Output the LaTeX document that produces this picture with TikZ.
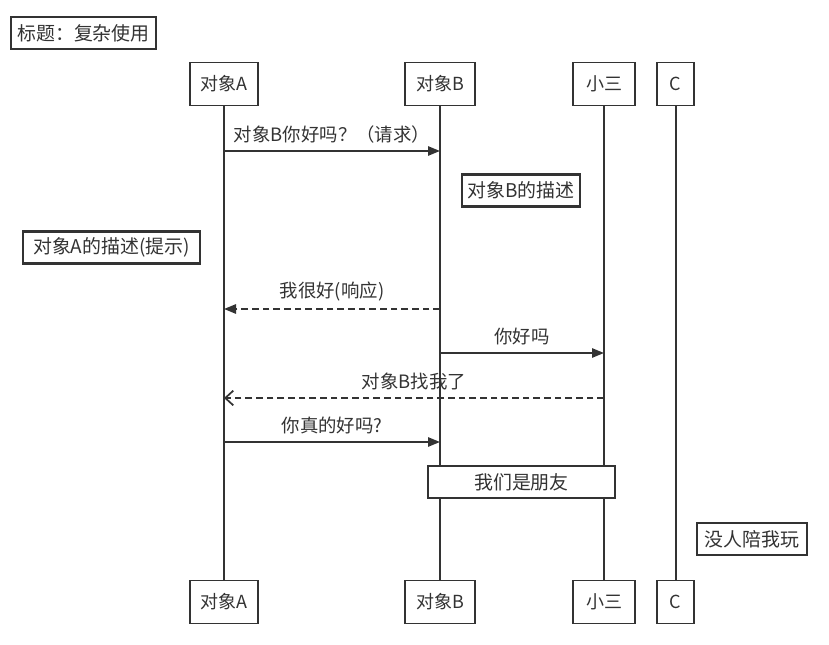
\documentclass[tikz,border=0pt]{standalone}
\usepackage{fontspec}
\setmainfont{Noto Sans CJK SC}
\usetikzlibrary{arrows.meta}
\definecolor{ink}{HTML}{333333}
\tikzset{
  px/.style={x=0.75pt,y=-0.75pt},
  actor/.style={draw=ink,line width=1.3pt,fill=white,minimum height=32.25pt,inner sep=0pt,font=\fontsize{13.5pt}{15pt}\selectfont,text=ink},
  notebox/.style={draw=ink,line width=1.6pt,fill=white,inner sep=0pt,minimum height=24pt,font=\fontsize{14.2pt}{16pt}\selectfont,text=ink},
  lifeline/.style={draw=ink,line width=1.5pt},
  msg/.style={draw=ink,line width=1.3pt,-{Triangle[length=9pt,width=7pt]}},
  reply/.style={msg,dash pattern=on 5pt off 3pt},
  async/.style={draw=ink,line width=1.3pt,dash pattern=on 5pt off 3pt,-{Straight Barb[length=6pt,width=11pt]}},
  lbl/.style={font=\fontsize{13.8pt}{15pt}\selectfont,text=ink,inner sep=0pt}
}
\begin{document}
\begin{tikzpicture}[px]
\useasboundingbox (0,0) rectangle (829,645);
% title
\node[notebox,minimum width=108.75pt,minimum height=23.5pt] (title) at (83.5,33) {标题：复杂使用};
% actors top
\node[actor,minimum width=51pt] (At) at (224,84) {对象A};
\node[actor,minimum width=52.5pt] (Bt) at (440,84) {对象B};
\node[actor,minimum width=46.5pt] (St) at (604,84) {小三};
\node[actor,minimum width=27.75pt] (Ct) at (675.5,84) {C};
% actors bottom
\node[actor,minimum width=51pt] (Ab) at (224,602) {对象A};
\node[actor,minimum width=52.5pt] (Bb) at (440,602) {对象B};
\node[actor,minimum width=46.5pt] (Sb) at (604,602) {小三};
\node[actor,minimum width=27.75pt] (Cb) at (675.5,602) {C};
% lifelines
\draw[lifeline] (At.south) -- (Ab.north);
\draw[lifeline] (Bt.south) -- (Bb.north);
\draw[lifeline] (St.south) -- (Sb.north);
\draw[lifeline] (Ct.south) -- (Cb.north);
% message endpoints
\coordinate (a1) at (224,151); \coordinate (b1) at (440,151);
\coordinate (b2) at (440,309); \coordinate (a2) at (224,309);
\coordinate (b3) at (440,353); \coordinate (s3) at (604,353);
\coordinate (s4) at (604,398); \coordinate (a4) at (224,398);
\coordinate (a5) at (224,442); \coordinate (b5) at (440,442);
% messages
\draw[msg] (a1) -- node[lbl,above=5pt] (m1) {对象B你好吗？（请求）} (b1);
\draw[reply] (b2) -- node[lbl,above=5pt] (m2) {我很好(响应)} (a2);
\draw[msg] (b3) -- node[lbl,above=5pt] (m3) {你好吗} (s3);
\draw[async] (s4) -- node[lbl,above=5pt] (m4) {对象B找我了} (a4);
\draw[msg] (a5) -- node[lbl,above=5pt] (m5) {你真的好吗?} (b5);
% notes
\node[notebox,minimum width=88.5pt] (n1) at (521,190.5) {对象B的描述};
\node[notebox,minimum width=132.75pt] (n2) at (111.5,247.5) {对象A的描述(提示)};
\node[notebox,minimum width=140.25pt,line width=1.3pt] (n3) at (521.5,482) {我们是朋友};
\node[notebox,minimum width=82.5pt] (n4) at (752,539) {没人陪我玩};
\end{tikzpicture}
\end{document}
